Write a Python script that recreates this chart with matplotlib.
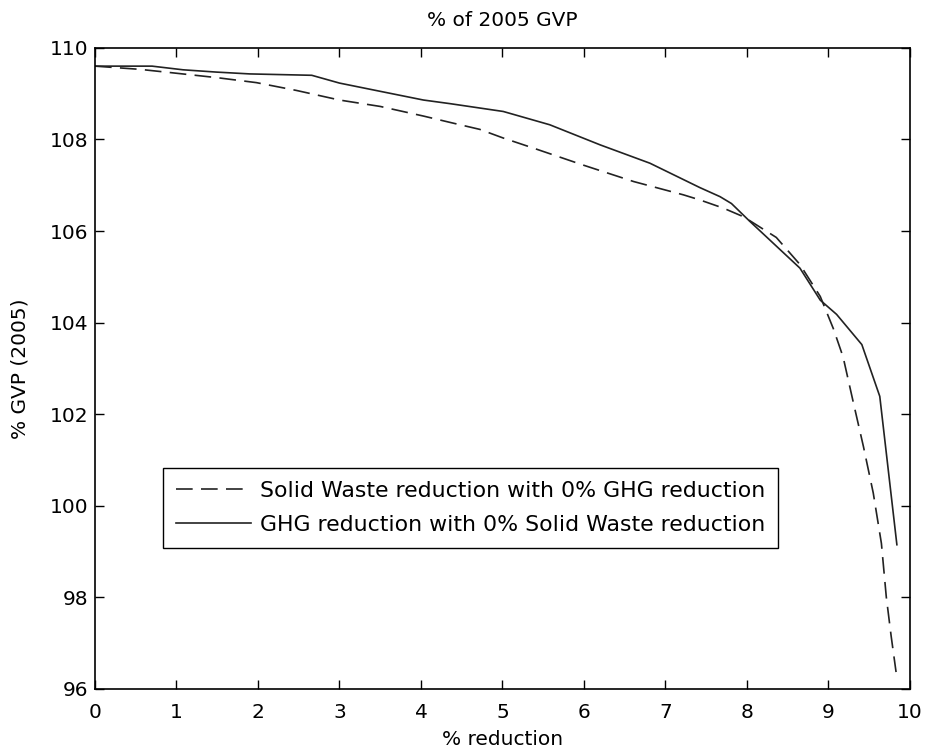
import matplotlib
matplotlib.use("Agg")
import matplotlib.pyplot as plt

plt.rcParams['font.family'] = ['DejaVu Sans']

# Solid Waste reduction with 0% GHG reduction (dashed)
sw_x = [0.0, 0.55, 0.92, 1.49, 1.98, 2.47, 3.0, 3.5, 4.03, 4.36, 4.72, 5.01, 5.38, 5.99, 6.61,
        7.22, 7.42, 7.71, 7.96, 8.36, 8.65, 8.9, 9.06, 9.18, 9.30, 9.43, 9.55, 9.65, 9.71, 9.77, 9.83]
sw_y = [109.6, 109.53, 109.46, 109.35, 109.24, 109.07, 108.86, 108.72, 108.51, 108.37, 108.22, 108.03,
        107.81, 107.44, 107.08, 106.79, 106.68, 106.5, 106.31, 105.86, 105.27, 104.57, 103.87, 103.25,
        102.3, 101.29, 100.28, 99.18, 98.01, 97.15, 96.37]

# GHG reduction with 0% Solid Waste reduction (solid)
ghg_x = [0.0, 0.70, 1.08, 1.49, 1.90, 2.66, 3.0, 3.5, 4.03, 4.36, 5.01, 5.58, 6.20, 6.81, 7.42,
         7.67, 7.81, 8.03, 8.65, 8.9, 9.10, 9.41, 9.63, 9.84]
ghg_y = [109.6, 109.6, 109.52, 109.47, 109.43, 109.40, 109.23, 109.05, 108.86, 108.78, 108.61,
         108.32, 107.88, 107.48, 106.95, 106.75, 106.6, 106.22, 105.19, 104.49, 104.18, 103.52,
         102.39, 99.15]

sw_label = 'Solid Waste reduction with 0% GHG reduction'
ghg_label = 'GHG reduction with 0% Solid Waste reduction'
x_ticks = [0, 1, 2, 3, 4, 5, 6, 7, 8, 9, 10]
y_ticks = [96, 98, 100, 102, 104, 106, 108, 110]

FS = 14.5

fig = plt.figure(figsize=(9.25, 7.53), dpi=100)
ax = fig.add_axes([0.1027, 0.085, 0.881, 0.8515])

ax.plot(sw_x, sw_y, color='#222222', lw=1.2, dashes=(10, 5), label=sw_label)
ax.plot(ghg_x, ghg_y, color='#222222', lw=1.2, label=ghg_label)

ax.set_xlim(0, 10)
ax.set_ylim(96, 110)
ax.set_xticks(x_ticks)
ax.set_yticks(y_ticks)
ax.tick_params(direction='in', top=True, right=True, labelsize=FS, length=6.5, width=1)
ax.tick_params(axis='x', pad=10)
ax.tick_params(axis='y', pad=5)
for s in ax.spines.values():
    s.set_linewidth(1.2)

ax.set_title('% of 2005 GVP', fontsize=FS, pad=16)
ax.set_xlabel('% reduction', fontsize=FS, labelpad=6)
ax.set_ylabel('% GVP (2005)', fontsize=FS, labelpad=14)

leg = ax.legend(loc='lower left', bbox_to_anchor=(0.0834, 0.22), fontsize=15.8,
                frameon=True, fancybox=False, edgecolor='black', framealpha=1,
                handlelength=3.4, borderpad=0.6, labelspacing=0.62, handletextpad=0.4,
                borderaxespad=0)
leg.get_frame().set_linewidth(1.0)

fig.savefig('out.png', dpi=100)
